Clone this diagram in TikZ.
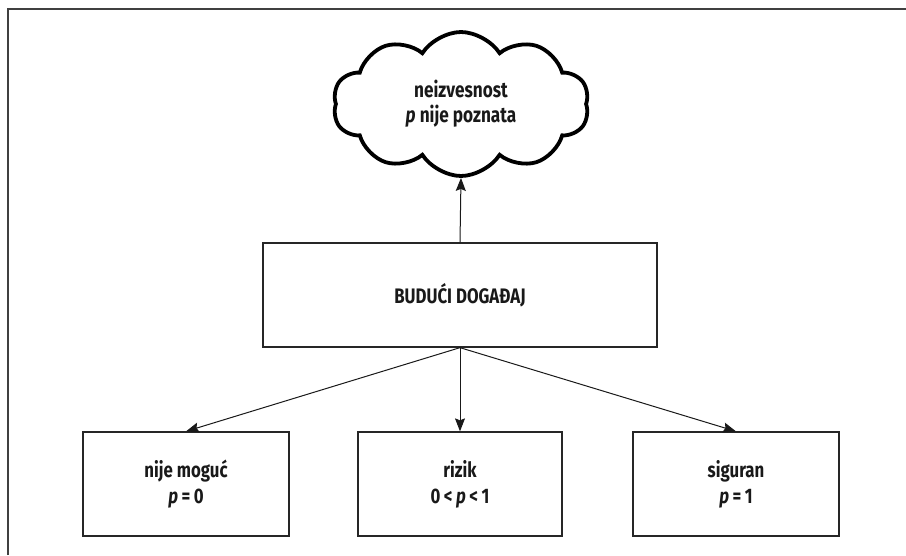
\documentclass[tikz,border=0pt]{standalone}
\usepackage{fontspec}
\setmainfont{Fira Sans}[FakeStretch=0.8]
\usetikzlibrary{shapes.symbols,arrows.meta}
\begin{document}
\begin{tikzpicture}[
    x=1pt, y=-1pt,
    state/.style={rectangle, draw=black!85, line width=1.3pt, minimum height=104pt, align=center, font=\fontsize{21}{26}\selectfont\bfseries, text=black!90},
    cloudbox/.style={cloud, cloud puffs=10, cloud puff arc=115, cloud ignores aspect, draw=black, line width=3.8pt, minimum width=256pt, minimum height=144pt, inner sep=0pt, align=center, font=\fontsize{21.5}{25}\selectfont\bfseries, text=black!90},
    arrow/.style={-{Stealth[length=13pt, width=10pt, inset=2pt]}, line width=1pt, black!90},
]
\useasboundingbox (0,0) rectangle (906,555);
\draw[line width=1.6pt, black!75] (8,555) -- (8,9) -- (906,9);

\node[cloudbox] (unc) at (461,104) {neizvesnost\\\textit{p} nije poznata};
\node[state, minimum width=394pt] (ev) at (460,295) {BUDUĆI DOGAĐAJ};
\node[state, minimum width=206pt] (imp) at (186,484) {nije moguć\\\textit{p}\,=\,0};
\node[state, minimum width=204pt] (risk) at (460,484) {rizik\\0\,<\,\textit{p}\,<\,1};
\node[state, minimum width=206pt] (sure) at (736,484) {siguran\\\textit{p}\,=\,1};

\draw[arrow] (ev.north) -- (unc.south);
\draw[arrow] (ev.south) -- (imp.north);
\draw[arrow] (ev.south) -- (risk.north);
\draw[arrow] (ev.south) -- (sure.north);
\end{tikzpicture}
\end{document}
